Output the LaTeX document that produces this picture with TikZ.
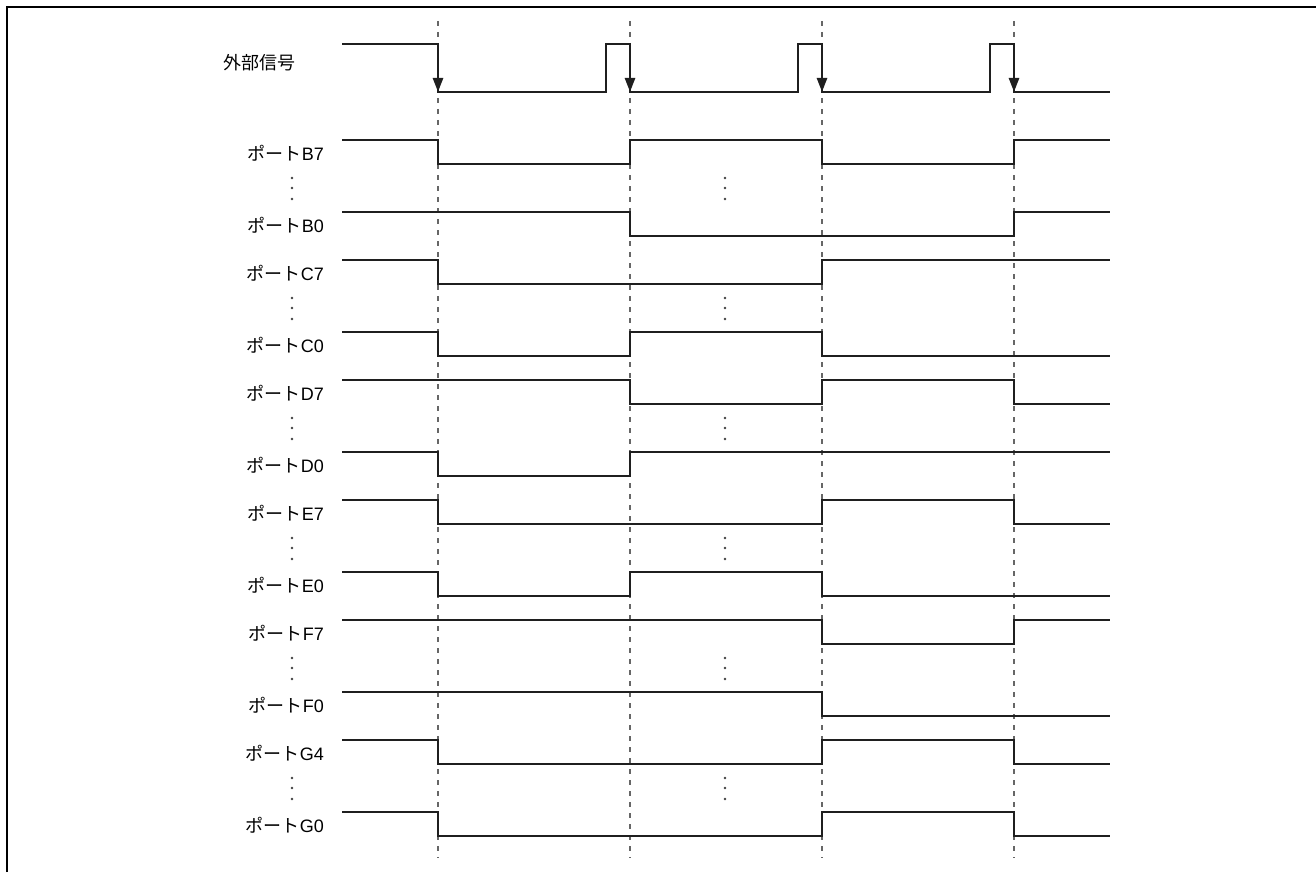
\documentclass[tikz,border=0pt]{standalone}
\usepackage{fontspec}
\setmainfont{Liberation Sans}
\newfontfamily\jp{Noto Sans CJK JP}
\usetikzlibrary{arrows.meta,positioning}
\tikzset{
  sigln/.style={line width=2.5pt, line join=miter, black!88},
  tickln/.style={dash pattern=on 5pt off 6pt, line width=1.4pt, black!60},
  edgeln/.style={line width=2.5pt, black!88, -{Triangle[length=14pt,width=10pt]}},
  lbl/.style={anchor=east, inner sep=0pt, font=\fontsize{18}{18}\selectfont},
  frameln/.style={line width=2.8pt, black},
}
% times of the four falling edges
\newcommand{\ta}{438}
\newcommand{\tb}{630}
\newcommand{\tc}{822}
\newcommand{\td}{1014}
\newcommand{\xs}{342}
\newcommand{\xe}{1110}
\newcommand{\dotcol}[2]{%
  \foreach \d in {38,48,59} {
    \fill[black!75] (#1,#2+\d) circle (1.4pt);
  }
}

\begin{document}
\begin{tikzpicture}[x=1pt,y=-1pt]
    \useasboundingbox (0,0) rectangle (1316,872);
    \draw[frameln] (7,872) -- (7,7) -- (1316,7);
    % time marks
    \foreach \t [count=\i] in {\ta,\tb,\tc,\td} {
      \coordinate (mk\i a) at (\t,21);
      \coordinate (mk\i b) at (\t,858);
      \draw[tickln] (mk\i a) -- (mk\i b);
    }
    % external signal
    \node[anchor=west, inner sep=0pt, font=\fontsize{18}{18}\selectfont] (ext) at (223,63) {\jp 外部信号};
    \draw[sigln] (\xs,44) -| (\ta,92) -| (606,44) -| (\tb,92) -| (798,44)
      -| (\tc,92) -| (990,44) -| (\td,92) -- (\xe,92);
    \foreach \t in {\ta,\tb,\tc,\td} {
      \draw[edgeln] (\t,44) -- (\t,92);
    }
    % port labels
    \foreach \p/\y in {B7/140,B0/212,C7/260,C0/332,D7/380,D0/452,E7/500,E0/572,F7/620,F0/692,G4/740,G0/812} {
      \node[lbl] (l\p) at (324,\y+13) {{\jp ポート}\p};
    }
    % port waveforms
    \draw[sigln] (\xs,140) -| (\ta,164) -| (\tb,140) -| (\tc,164) -| (\td,140) -- (\xe,140);
    \draw[sigln] (\xs,212) -| (\tb,236) -| (\td,212) -- (\xe,212);
    \draw[sigln] (\xs,260) -| (\ta,284) -| (\tc,260) -- (\xe,260);
    \draw[sigln] (\xs,332) -| (\ta,356) -| (\tb,332) -| (\tc,356) -- (\xe,356);
    \draw[sigln] (\xs,380) -| (\tb,404) -| (\tc,380) -| (\td,404) -- (\xe,404);
    \draw[sigln] (\xs,452) -| (\ta,476) -| (\tb,452) -- (\xe,452);
    \draw[sigln] (\xs,500) -| (\ta,524) -| (\tc,500) -| (\td,524) -- (\xe,524);
    \draw[sigln] (\xs,572) -| (\ta,596) -| (\tb,572) -| (\tc,596) -- (\xe,596);
    \draw[sigln] (\xs,620) -| (\tc,644) -| (\td,620) -- (\xe,620);
    \draw[sigln] (\xs,692) -| (\tc,716) -- (\xe,716);
    \draw[sigln] (\xs,740) -| (\ta,764) -| (\tc,740) -| (\td,764) -- (\xe,764);
    \draw[sigln] (\xs,812) -| (\ta,836) -| (\tc,812) -| (\td,836) -- (\xe,836);
    % omitted bits
    \foreach \y in {140,260,380,500,620,740} {
      \dotcol{292}{\y}
      \dotcol{725}{\y}
    }
\end{tikzpicture}
\end{document}
